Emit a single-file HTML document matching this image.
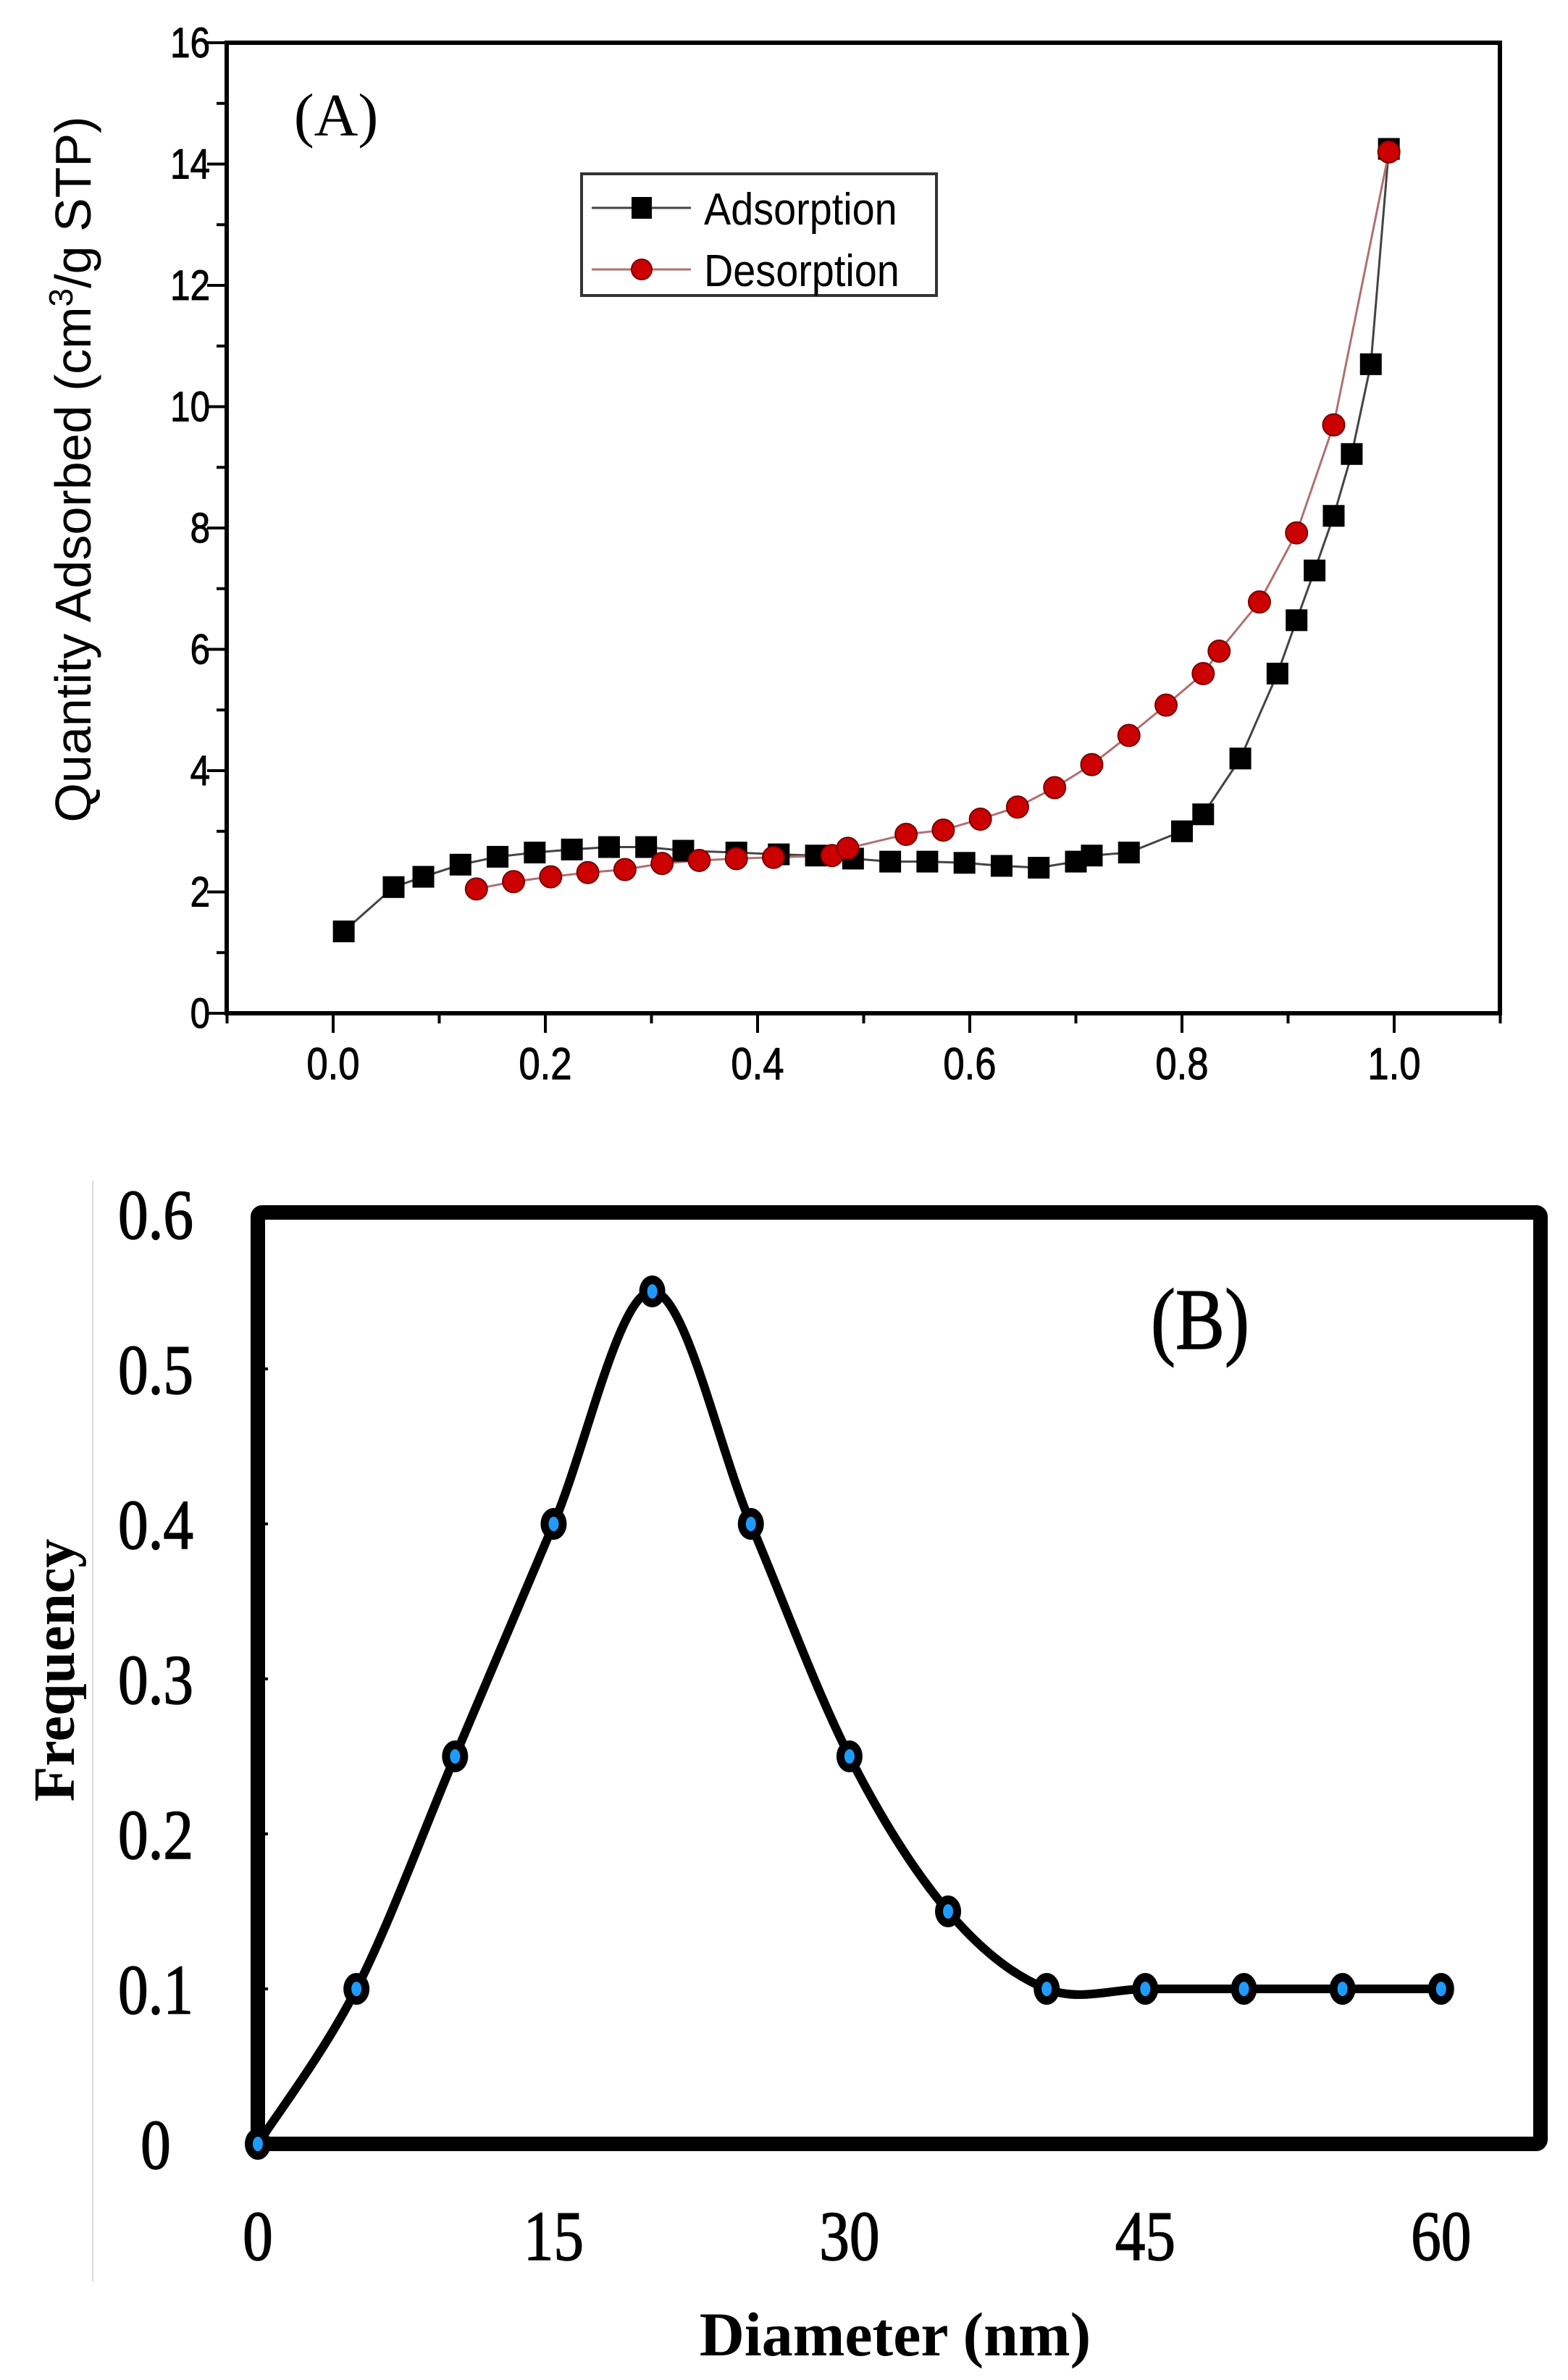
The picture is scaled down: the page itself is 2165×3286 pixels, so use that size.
<!DOCTYPE html>
<html><head><meta charset="utf-8"><style>
html,body{margin:0;padding:0;background:#fff;}
svg{display:block;}
</style></head><body>
<svg id="s" width="2165" height="3286" viewBox="0 0 2165 3286" xmlns="http://www.w3.org/2000/svg">
<rect width="2165" height="3286" fill="#fff"/>
<g id="A"></g>
<g id="B"></g>
</svg>
<script>
const NS="http://www.w3.org/2000/svg";
function el(p,t,a,txt){const e=document.createElementNS(NS,t);for(const k in a)e.setAttribute(k,a[k]);if(txt!==undefined)e.textContent=txt;p.appendChild(e);return e;}
const A=document.getElementById('A'),B=document.getElementById('B');
// ---------- Plot A ----------
const ax=v=>460+1465*v, ay=v=>1399-83.75*v;
el(A,'rect',{x:313,y:59,width:1758,height:1340,fill:'none',stroke:'#000','stroke-width':6});
for(let v=0;v<=16;v++){const y=ay(v);const L=v%2==0?27:14;el(A,'line',{x1:313-L,y1:y,x2:313,y2:y,stroke:'#000','stroke-width':4});
 if(v%2==0){el(A,'text',{x:290,y:y+20,'text-anchor':'end','font-family':'Liberation Sans, sans-serif','font-size':58,stroke:'#000','stroke-width':1,transform:`translate(290 0) scale(0.85 1) translate(-290 0)`},String(v));}}
for(let i=-1;i<=11;i++){const v=i/10,x=ax(v);const major=i%2==0;el(A,'line',{x1:x,y1:1399,x2:x,y2:1399+(major?27:14),stroke:'#000','stroke-width':4});
 if(major&&i>=0&&i<=10){el(A,'text',{x:x,y:1490,'text-anchor':'middle','font-family':'Liberation Sans, sans-serif','font-size':62,stroke:'#000','stroke-width':1,transform:`translate(${x} 0) scale(0.85 1) translate(${-x} 0)`},v.toFixed(1));}}
const yl=el(A,'text',{x:0,y:0,'text-anchor':'middle','font-family':'Liberation Sans, sans-serif','font-size':70,transform:'translate(125 648) rotate(-90)'});
yl.innerHTML='Quantity Adsorbed (cm<tspan dy="-25" font-size="46">3</tspan><tspan dy="25">/g STP)</tspan>';
el(A,'text',{x:464,y:187,'text-anchor':'middle','font-family':'Liberation Serif, serif','font-size':84},'(A)');
const ads=[[0.01,1.35],[0.057,2.08],[0.085,2.25],[0.12,2.45],[0.155,2.58],[0.19,2.65],[0.225,2.7],[0.26,2.74],[0.295,2.74],[0.33,2.68],[0.38,2.65],[0.42,2.62],[0.455,2.6],[0.49,2.55],[0.525,2.5],[0.56,2.5],[0.595,2.48],[0.63,2.43],[0.665,2.4],[0.70,2.5],[0.715,2.6],[0.75,2.65],[0.80,3.0],[0.82,3.28],[0.855,4.2],[0.89,5.6],[0.908,6.48],[0.925,7.3],[0.943,8.2],[0.96,9.22],[0.978,10.7],[0.995,14.25]];
const des=[[0.135,2.05],[0.17,2.17],[0.205,2.25],[0.24,2.32],[0.275,2.37],[0.31,2.47],[0.345,2.52],[0.38,2.55],[0.415,2.57],[0.47,2.6],[0.485,2.72],[0.54,2.95],[0.575,3.02],[0.61,3.2],[0.645,3.4],[0.68,3.72],[0.715,4.1],[0.75,4.58],[0.785,5.08],[0.82,5.6],[0.835,5.97],[0.873,6.78],[0.908,7.92],[0.943,9.7],[0.995,14.2]];
el(A,'polyline',{points:ads.map(p=>ax(p[0])+','+ay(p[1])).join(' '),fill:'none',stroke:'#444','stroke-width':3});
el(A,'polyline',{points:des.map(p=>ax(p[0])+','+ay(p[1])).join(' '),fill:'none',stroke:'#b07070','stroke-width':3});
ads.forEach(p=>el(A,'rect',{x:ax(p[0])-15,y:ay(p[1])-15,width:30,height:30,fill:'#000'}));
des.forEach(p=>el(A,'circle',{cx:ax(p[0]),cy:ay(p[1]),r:15,fill:'#cc0000',stroke:'#700','stroke-width':2}));
el(A,'rect',{x:803,y:240,width:490,height:168,fill:'#fff',stroke:'#333','stroke-width':4});
el(A,'line',{x1:817,y1:287,x2:954,y2:287,stroke:'#444','stroke-width':3});
el(A,'rect',{x:872,y:272,width:28,height:30,fill:'#000'});
el(A,'line',{x1:817,y1:372,x2:954,y2:372,stroke:'#b07070','stroke-width':3});
el(A,'circle',{cx:886,cy:372,r:14,fill:'#cc0000',stroke:'#700','stroke-width':2});
el(A,'text',{x:972,y:310,'font-family':'Liberation Sans, sans-serif','font-size':62,transform:'translate(972 0) scale(0.9 1) translate(-972 0)'},'Adsorption');
el(A,'text',{x:972,y:395,'font-family':'Liberation Sans, sans-serif','font-size':62,transform:'translate(972 0) scale(0.9 1) translate(-972 0)'},'Desorption');
// ---------- Plot B ----------
const bx=v=>356+27.23*v, by=v=>2960-2140*v;
el(B,'line',{x1:128,y1:1630,x2:128,y2:3150,stroke:'#ddd','stroke-width':2});
el(B,'rect',{x:356,y:1674,width:1771,height:1286,fill:'none',stroke:'#000','stroke-width':20,rx:6});
for(let i=0;i<=6;i++){const v=i/10,y=by(v);
 el(B,'line',{x1:356,y1:y,x2:370,y2:y,stroke:'#000','stroke-width':4});
 const t=i==0?'0':v.toFixed(1);
 el(B,'text',{x:215,y:y+34,'text-anchor':'middle','font-family':'Liberation Serif, serif','font-size':98,stroke:'#000','stroke-width':1.5,transform:`translate(215 0) scale(0.85 1) translate(-215 0)`},t);}
[0,15,30,45,60].forEach(v=>{const x=bx(v);el(B,'text',{x:x,y:3120,'text-anchor':'middle','font-family':'Liberation Serif, serif','font-size':98,stroke:'#000','stroke-width':1.5,transform:`translate(${x} 0) scale(0.85 1) translate(${-x} 0)`},String(v));});
el(B,'text',{x:1236,y:3252,'text-anchor':'middle','font-family':'Liberation Serif, serif','font-weight':'bold','font-size':86},'Diameter (nm)');
el(B,'text',{x:0,y:0,'text-anchor':'middle','font-family':'Liberation Serif, serif','font-weight':'bold','font-size':80,transform:'translate(102 2306) rotate(-90)'},'Frequency');
el(B,'text',{x:1657,y:1862,'text-anchor':'middle','font-family':'Liberation Serif, serif','font-size':120,stroke:'#000','stroke-width':1.5,transform:'translate(1657 0) scale(0.85 1) translate(-1657 0)'},'(B)');
const bd=[[0,0],[5,.1],[10,.25],[15,.4],[20,.55],[25,.4],[30,.25],[35,.15],[40,.1],[45,.1],[50,.1],[55,.1],[60,.1]].map(p=>[bx(p[0]),by(p[1])]);
let d='M'+bd[0][0]+','+bd[0][1];
for(let i=0;i<bd.length-1;i++){const p0=bd[Math.max(0,i-1)],p1=bd[i],p2=bd[i+1],p3=bd[Math.min(bd.length-1,i+2)];
 const c1=[p1[0]+(p2[0]-p0[0])/6,p1[1]+(p2[1]-p0[1])/6],c2=[p2[0]-(p3[0]-p1[0])/6,p2[1]-(p3[1]-p1[1])/6];
 d+=` C${c1[0]},${c1[1]} ${c2[0]},${c2[1]} ${p2[0]},${p2[1]}`;}
el(B,'path',{d:d,fill:'none',stroke:'#000','stroke-width':12,'stroke-linejoin':'round'});
bd.forEach(p=>{el(B,'ellipse',{cx:p[0],cy:p[1],rx:18,ry:22,fill:'#000'});el(B,'ellipse',{cx:p[0],cy:p[1],rx:7,ry:10,fill:'#1e9bff'});});
</script>
</body></html>
